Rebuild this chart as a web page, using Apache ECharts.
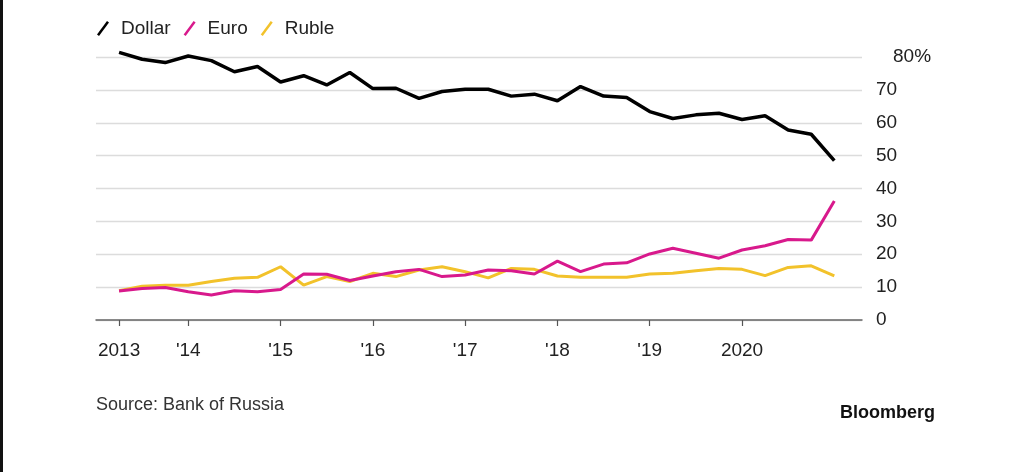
<!DOCTYPE html>
<html>
<head>
<meta charset="utf-8">
<script src="https://cdn.jsdelivr.net/npm/echarts@6/dist/echarts.min.js"></script>
<style>
html,body{margin:0;padding:0;background:#fff;}
#c{width:1024px;height:472px;}
</style>
</head>
<body>
<div id="c"></div>
<script>
// Quarterly share of currencies (percent), 2013 Q2 .. 2021 Q1
const quarters = ['2013Q2','2013Q3','2013Q4','2014Q1','2014Q2','2014Q3','2014Q4','2015Q1','2015Q2','2015Q3','2015Q4','2016Q1','2016Q2','2016Q3','2016Q4','2017Q1','2017Q2','2017Q3','2017Q4','2018Q1','2018Q2','2018Q3','2018Q4','2019Q1','2019Q2','2019Q3','2019Q4','2020Q1','2020Q2','2020Q3','2020Q4','2021Q1'];
const dollar = [81.4,79.3,78.3,80.3,78.9,75.5,77.1,72.4,74.3,71.5,75.3,70.4,70.5,67.4,69.5,70.2,70.2,68.1,68.7,66.7,71.0,68.1,67.7,63.4,61.3,62.4,62.9,61.0,62.1,57.8,56.5,48.5];
const euro = [8.8,9.6,9.9,8.6,7.6,8.9,8.6,9.3,14.0,13.9,12.0,13.4,14.7,15.4,13.2,13.7,15.2,15.0,14.0,17.9,14.7,17.0,17.4,20.1,21.8,20.3,18.8,21.3,22.6,24.5,24.3,36.2];
const ruble = [8.9,10.3,10.6,10.6,11.7,12.7,13.0,16.2,10.6,13.2,11.7,14.2,13.2,15.2,16.2,14.7,12.8,15.7,15.4,13.4,13.0,13.0,13.0,14.0,14.2,15.0,15.7,15.4,13.5,16.0,16.5,13.4];
const tickQuarters = ['2013Q2','2014Q1','2015Q1','2016Q1','2017Q1','2018Q1','2019Q1','2020Q1'];
const tickLabels = ['2013',"'14","'15","'16","'17","'18","'19",'2020'];

const tickIdx = tickQuarters.map(q => quarters.indexOf(q));
const toPairs = arr => arr.map((v, i) => [i, v]);
const FONT = '"Liberation Sans", Arial, Helvetica, sans-serif';

const chart = echarts.init(document.getElementById('c'), null, {renderer: 'canvas'});
const slant = 'path://M0,13.5 L10,0 L12,1.5 L2,15 Z';
chart.setOption({
  backgroundColor: '#fff',
  animation: false,
  textStyle: {fontFamily: FONT},
  legend: {
    left: 97, top: 19, padding: 0,
    itemWidth: 12, itemHeight: 15, itemGap: 13,
    icon: slant,
    textStyle: {fontSize: 19, color: '#222', fontFamily: FONT, padding: [0, 0, 0, 7]},
    data: ['Dollar', 'Euro', 'Ruble']
  },
  grid: {left: 96, right: 162, top: 57, bottom: 152},
  xAxis: {
    type: 'value', min: -1, max: 32.2,
    axisLine: {show: true, lineStyle: {color: '#666', width: 1.5}},
    axisTick: {show: true, length: 6, lineStyle: {color: '#555', width: 1.2}, customValues: tickIdx},
    axisLabel: {
      customValues: tickIdx,
      formatter: v => tickLabels[tickIdx.indexOf(Math.round(v))] || '',
      fontSize: 19, color: '#222', margin: 21, fontFamily: FONT
    },
    splitLine: {show: false}
  },
  yAxis: {
    type: 'value', position: 'right', min: 0, max: 80, interval: 10,
    axisLine: {show: false}, axisTick: {show: false},
    axisLabel: {
      margin: 14, fontSize: 19, color: '#222', align: 'left', fontFamily: FONT,
      formatter: v => v === 80 ? '{p|80%}' : String(v),
      rich: {p: {fontSize: 19, color: '#222', padding: [0, 0, 0, 17], fontFamily: FONT}}
    },
    splitLine: {lineStyle: {color: '#dcdcdc', width: 1.3}}
  },
  series: [
    {name: 'Ruble', type: 'line', data: toPairs(ruble), showSymbol: false, clip: false, z: 2,
     lineStyle: {color: '#f2c22b', width: 3}, itemStyle: {color: '#f2c22b'}},
    {name: 'Euro', type: 'line', data: toPairs(euro), showSymbol: false, clip: false, z: 3,
     lineStyle: {color: '#d8198c', width: 3}, itemStyle: {color: '#d8198c'}},
    {name: 'Dollar', type: 'line', data: toPairs(dollar), showSymbol: false, clip: false, z: 4,
     lineStyle: {color: '#000', width: 3.5}, itemStyle: {color: '#000'}}
  ],
  graphic: [
    {type: 'rect', left: 0, top: 0, shape: {width: 3, height: 472}, style: {fill: '#111'}},
    {type: 'text', left: 96, top: 396, style: {text: 'Source: Bank of Russia', fontSize: 18, fill: '#333', fontFamily: FONT}},
    {type: 'text', right: 89, top: 404, style: {text: 'Bloomberg', fontSize: 18, fontWeight: 'bold', fill: '#111', fontFamily: FONT}}
  ]
});
</script>
</body>
</html>
